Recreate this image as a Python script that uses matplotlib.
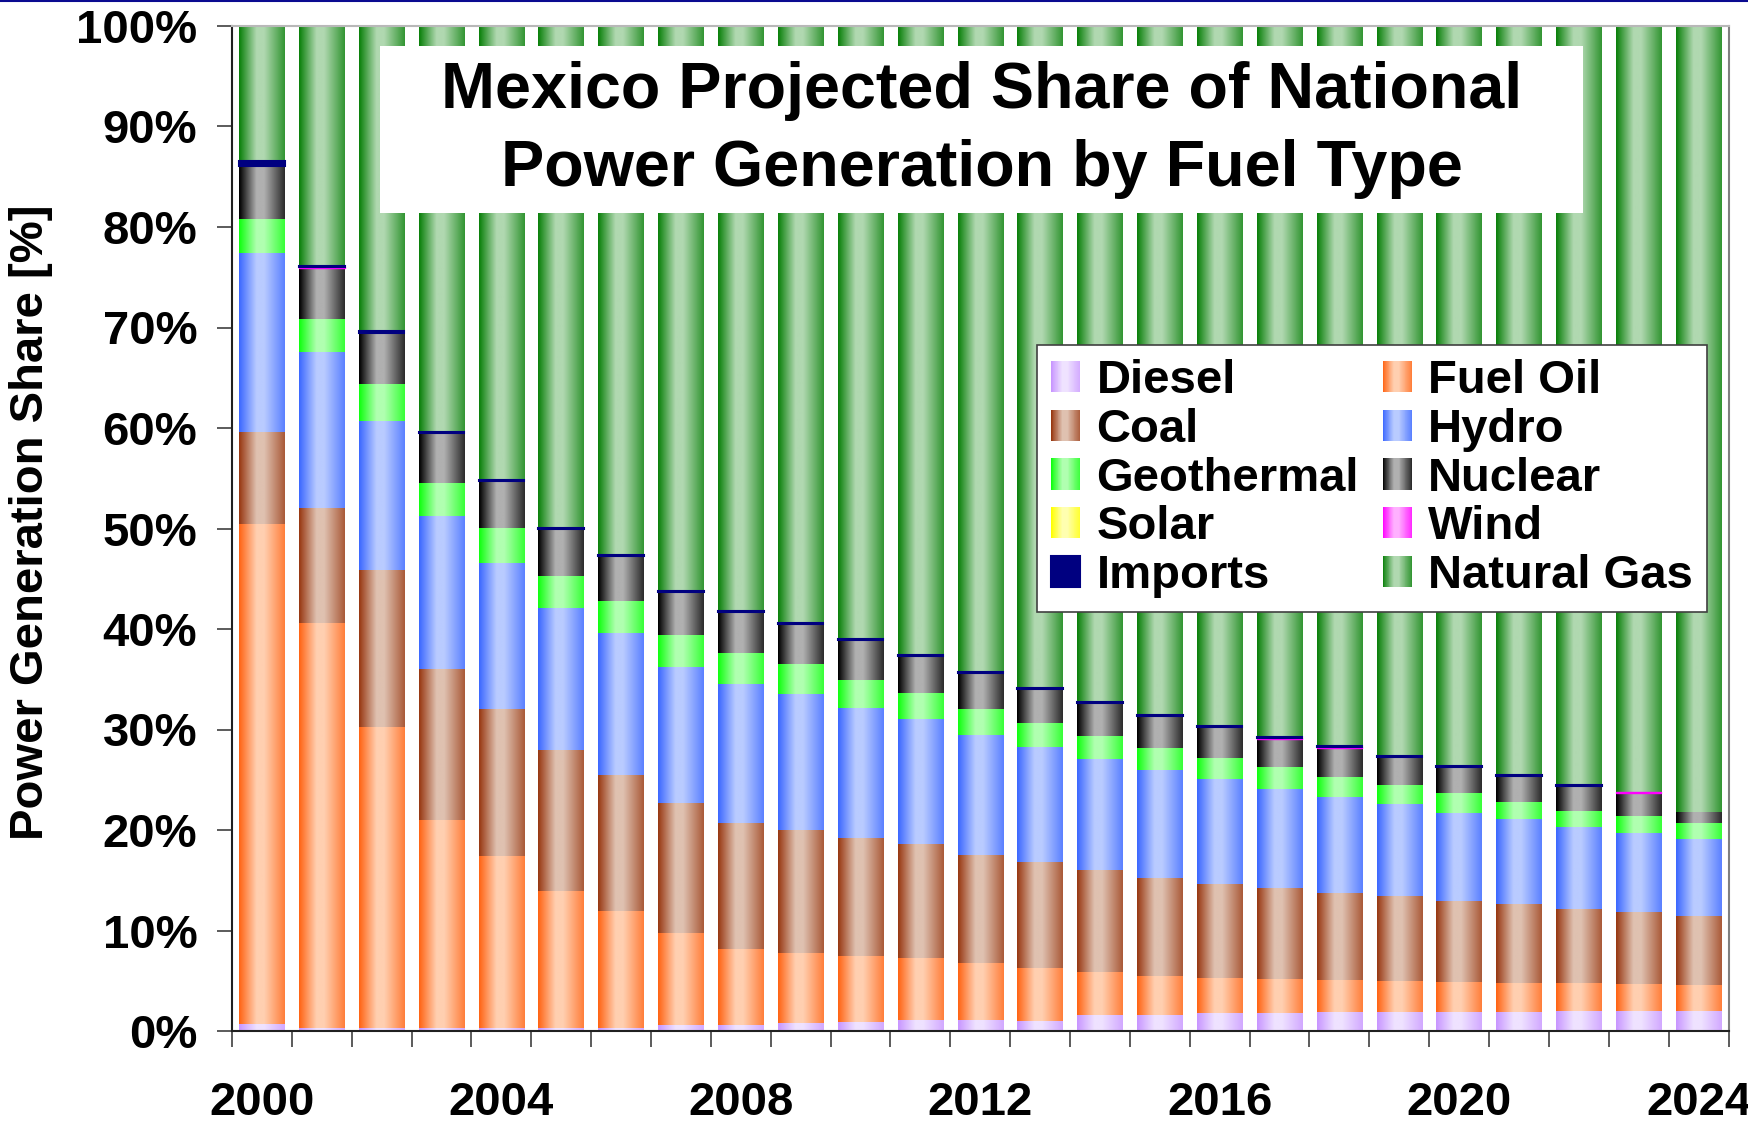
import matplotlib
matplotlib.use('Agg')
import matplotlib.pyplot as plt
import numpy as np
from matplotlib.colors import to_rgb
from matplotlib.patches import Rectangle
from matplotlib.legend_handler import HandlerBase
from matplotlib.lines import Line2D

plt.rcParams['font.family'] = ['Liberation Sans', 'DejaVu Sans']
plt.rcParams['font.weight'] = 'bold'

# data (share of generation, %)
years = list(range(2000, 2025))
diesel = [0.7, 0.25, 0.25, 0.25, 0.25, 0.25, 0.25, 0.55, 0.55, 0.8, 0.9, 1.1, 1.1,
          1.0, 1.6, 1.6, 1.8, 1.8, 1.9, 1.9, 1.9, 1.9, 2.0, 2.0, 2.0]
fuel_oil = [49.7, 40.4, 30.0, 20.8, 17.2, 13.7, 11.7, 9.2, 7.6, 7.0, 6.6, 6.2, 5.7,
            5.3, 4.3, 3.9, 3.5, 3.4, 3.2, 3.1, 3.0, 2.9, 2.8, 2.7, 2.6]
coal = [9.2, 11.4, 15.6, 15.0, 14.6, 14.0, 13.5, 12.9, 12.5, 12.2, 11.7, 11.3, 10.7,
        10.5, 10.1, 9.7, 9.4, 9.0, 8.6, 8.4, 8.0, 7.8, 7.3, 7.1, 6.9]
hydro = [17.8, 15.5, 14.8, 15.2, 14.5, 14.1, 14.1, 13.6, 13.9, 13.5, 13.0, 12.5, 12.0,
         11.5, 11.1, 10.8, 10.4, 9.9, 9.6, 9.2, 8.8, 8.5, 8.2, 7.9, 7.6]
geothermal = [3.4, 3.3, 3.7, 3.3, 3.5, 3.2, 3.2, 3.1, 3.0, 3.0, 2.8, 2.6, 2.5,
              2.4, 2.3, 2.2, 2.1, 2.2, 2.0, 1.9, 2.0, 1.7, 1.6, 1.7, 1.6]
nuclear = [5.3, 5.1, 5.1, 5.0, 4.7, 4.7, 4.5, 4.3, 4.1, 4.0, 3.9, 3.7, 3.6,
           3.4, 3.3, 3.2, 3.1, 2.8, 2.9, 2.8, 2.6, 2.6, 2.5, 2.3, 1.1]
solar = [0, 0, 0, 0, 0, 0, 0, 0, 0, 0, 0, 0, 0,
         0, 0, 0, 0, 0, 0, 0, 0, 0, 0, 0, 0]
wind = [0, 0.1, 0, 0, 0, 0, 0, 0, 0, 0, 0, 0, 0,
        0, 0, 0, 0, 0.05, 0.05, 0, 0, 0, 0, 0.05, 0]
imports = [0.5, 0.1, 0.2, 0.1, 0.1, 0.1, 0.1, 0.1, 0.1, 0.1, 0.1, 0.1, 0.1,
           0.1, 0.1, 0.1, 0.1, 0.1, 0.1, 0.1, 0.1, 0.1, 0.1, 0.0, 0.0]
natural_gas = [13.4, 23.9, 30.3, 40.4, 45.2, 49.9, 52.6, 56.2, 58.2, 59.4, 61.1, 62.6, 64.3,
               65.9, 67.3, 68.6, 69.8, 70.8, 71.7, 72.7, 73.6, 74.6, 75.4, 76.3, 78.3]

# name, values, edge colour, centre colour (None = solid)
series = [
    ('Diesel', diesel, '#c896ff', '#efe2ff'),
    ('Fuel Oil', fuel_oil, '#ff6414', '#ffcfb0'),
    ('Coal', coal, '#983812', '#dfc1b0'),
    ('Hydro', hydro, '#3c68ff', '#b9cbff'),
    ('Geothermal', geothermal, '#10ff10', '#b0ffb0'),
    ('Nuclear', nuclear, '#000000', '#b0b0b0'),
    ('Solar', solar, '#ffff00', '#ffffb0'),
    ('Wind', wind, '#ff00ff', '#ffb0ff'),
    ('Imports', imports, '#000080', None),
    ('Natural Gas', natural_gas, '#0a800a', '#b0d8b0'),
]


def gradient(dark, light, n=64):
    d = np.array(to_rgb(dark))
    l = np.array(to_rgb(light))
    right = d * 0.75 + l * 0.25
    t = np.linspace(0, 1, n)
    stops = [0, 0.38, 0.55, 1]
    cols = [d, l, l, right]
    rgb = np.stack([np.interp(t, stops, [c[k] for c in cols]) for k in range(3)], axis=-1)
    return rgb[np.newaxis, :, :]


class GradHandler(HandlerBase):
    def __init__(self, img):
        super().__init__()
        self.img = img

    def create_artists(self, legend, orig_handle, xdescent, ydescent,
                       width, height, fontsize, trans):
        cols = self.img[0]
        n = len(cols)
        arts = []
        for i, c in enumerate(cols):
            arts.append(Rectangle((-xdescent + width * i / n, -ydescent), width / n * 1.1,
                                  height, facecolor=c, edgecolor='none', transform=trans))
        return arts


W, H = 1748, 1124
fig = plt.figure(figsize=(W / 100, H / 100), dpi=100)
ax = fig.add_axes([232 / W, 1 - 1031 / H, (1728.5 - 232) / W, (1031 - 26) / H])

x = np.arange(len(years))
totals = np.sum([np.array(s[1], dtype=float) for s in series], axis=0)
bottom = np.zeros(len(years))
handles, hmap = {}, {}
for name, vals, dark, light in series:
    v = np.array(vals, dtype=float) / totals * 100
    bars = ax.bar(x, v, width=0.76, bottom=bottom, color=dark, linewidth=0, zorder=1)
    if light is not None:
        img = gradient(dark, light)
        for r in bars:
            if r.get_height() <= 0:
                continue
            ax.imshow(img, extent=(r.get_x(), r.get_x() + r.get_width(),
                                   r.get_y(), r.get_y() + r.get_height()),
                      aspect='auto', interpolation='bilinear', zorder=2)
        if name == 'Wind':
            for r in bars:
                if r.get_height() > 0:
                    r.set_edgecolor(dark)
                    r.set_linewidth(1.0)
                    r.set_zorder(3)
        h = Rectangle((0, 0), 1, 1, facecolor=dark)
        hmap[h] = GradHandler(img)
    else:
        for r in bars:
            if r.get_height() > 0:
                r.set_edgecolor(dark)
                r.set_linewidth(1.5)
                r.set_zorder(3)
        h = Rectangle((0, 0), 1, 1, facecolor=dark, edgecolor=dark, linewidth=1.5)
    handles[name] = h
    bottom += v

ax.set_xlim(-0.5, len(years) - 0.5)
ax.set_ylim(0, 100)

ax.set_yticks(np.arange(0, 101, 10))
ax.set_yticklabels([f'{v}%' for v in range(0, 101, 10)])
ax.tick_params(axis='y', length=11, width=1.2, pad=14, labelsize=34, color='#404040')

ax.set_xticks(x[::4])
ax.set_xticklabels([str(y) for y in years[::4]])
ax.set_xticks(np.arange(-0.5, len(years), 1), minor=True)
ax.tick_params(axis='x', which='major', length=0, pad=36, labelsize=34)
ax.tick_params(axis='x', which='minor', length=11.5, width=1.2, color='#404040')

ax.spines['left'].set_color('#202020')
ax.spines['bottom'].set_color('#202020')
ax.spines['top'].set_color('#b8b8b8')
ax.spines['right'].set_color('#808080')
for s in ax.spines.values():
    s.set_linewidth(1.5)

fig.text(31 / W, 1 - 522 / H, 'Power Generation Share [%]', rotation=90,
         ha='center', va='center', fontsize=34, fontweight='bold')

# legend, filled row by row in the original
order = ['Diesel', 'Coal', 'Geothermal', 'Solar', 'Imports',
         'Fuel Oil', 'Hydro', 'Nuclear', 'Wind', 'Natural Gas']
leg = ax.legend([handles[n] for n in order], order, handler_map=hmap, ncol=2,
                loc='upper left', bbox_to_anchor=(1037 / W, 1 - 345 / H),
                bbox_transform=fig.transFigure, borderaxespad=0,
                prop={'size': 34, 'weight': 'bold'}, frameon=True, fancybox=False,
                edgecolor='#404040', framealpha=1, handlelength=0.62, handleheight=0.64,
                handletextpad=0.34, columnspacing=0.5, labelspacing=0.1, borderpad=0.3)
leg.get_frame().set_linewidth(1.2)
leg.set_zorder(5)

# title in a white box over the plot
fig.add_artist(Rectangle((380 / W, 1 - 213 / H), (1583 - 380) / W, (213 - 46) / H,
                         transform=fig.transFigure, facecolor='white', edgecolor='none',
                         zorder=3))
fig.text(981.5 / W, 1 - 108 / H, 'Mexico Projected Share of National', ha='center',
         va='baseline', fontsize=46.5, fontweight='bold', zorder=4)
fig.text(981.5 / W, 1 - 186 / H, 'Power Generation by Fuel Type', ha='center',
         va='baseline', fontsize=46.5, fontweight='bold', zorder=4)

fig.add_artist(Line2D([0, 1], [1 - 1 / H, 1 - 1 / H], color='#0a0a90', linewidth=1.5,
                      transform=fig.transFigure))

fig.savefig('out.png', dpi=100)
